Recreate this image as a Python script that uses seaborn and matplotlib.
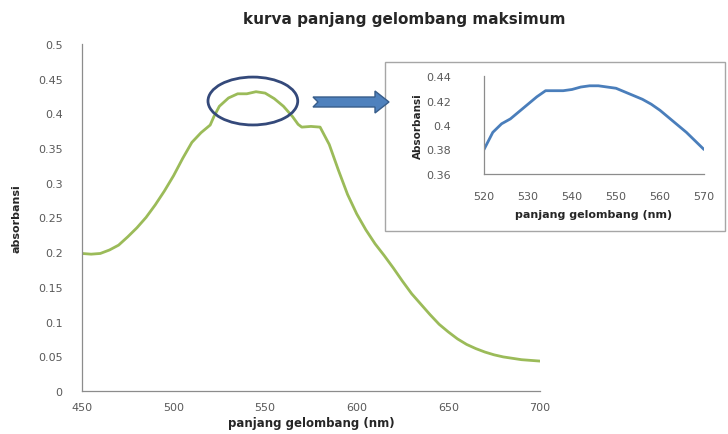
import numpy as np
import pandas as pd
import seaborn as sns
import matplotlib.pyplot as plt
from matplotlib.patches import Ellipse, Rectangle, Polygon

# main spectrum
wavelength = [450, 455, 460, 465, 470, 475, 480, 485, 490, 495, 500, 505, 510, 515,
              520, 522, 525, 530, 535, 540, 545, 550, 555, 560, 565, 568, 570, 575,
              580, 585, 590, 595, 600, 605, 610, 615, 620, 625, 630, 635, 640, 645,
              650, 655, 660, 665, 670, 675, 680, 685, 690, 695, 700]
absorbance = [0.198, 0.197, 0.198, 0.203, 0.210, 0.222, 0.235, 0.250, 0.268, 0.288,
              0.310, 0.335, 0.358, 0.372, 0.383, 0.395, 0.410, 0.422, 0.428, 0.428,
              0.431, 0.429, 0.421, 0.410, 0.395, 0.384, 0.380, 0.381, 0.380, 0.355,
              0.318, 0.283, 0.255, 0.232, 0.212, 0.195, 0.177, 0.158, 0.140, 0.125,
              0.110, 0.096, 0.085, 0.075, 0.067, 0.061, 0.056, 0.052, 0.049, 0.047,
              0.045, 0.044, 0.043]

# zoomed peak region
peak_wavelength = [520, 522, 524, 526, 528, 530, 532, 534, 536, 538, 540, 542, 544,
                   546, 548, 550, 552, 554, 556, 558, 560, 562, 564, 566, 568, 570]
peak_absorbance = [0.380, 0.394, 0.401, 0.405, 0.411, 0.417, 0.423, 0.428, 0.428,
                   0.428, 0.429, 0.431, 0.432, 0.432, 0.431, 0.430, 0.427, 0.424,
                   0.421, 0.417, 0.412, 0.406, 0.400, 0.394, 0.387, 0.380]

main_df = pd.DataFrame({'wl': wavelength, 'abs': absorbance})
peak_df = pd.DataFrame({'wl': peak_wavelength, 'abs': peak_absorbance})

GREEN = '#9bbb59'
BLUE = '#4a7ebb'
GRAY = '#595959'
SPINE = '#8c8c8c'

sns.set_style('white')
plt.rcParams['font.family'] = ['DejaVu Sans']

fig = plt.figure(figsize=(7.28, 4.35), dpi=100)


def style_axes(ax, pad_y=12, pad_x=8):
    for side in ['top', 'right']:
        ax.spines[side].set_visible(False)
    for side in ['left', 'bottom']:
        ax.spines[side].set_color(SPINE)
        ax.spines[side].set_linewidth(0.9)
    ax.tick_params(axis='both', colors=SPINE, labelcolor=GRAY, labelsize=8, length=0)
    ax.tick_params(axis='y', pad=pad_y)
    ax.tick_params(axis='x', pad=pad_x)


# inset frame (behind everything)
fig.patches.append(Rectangle((385 / 728, 1 - 232 / 435), 340 / 728, 169 / 435,
                             transform=fig.transFigure, fill=True, facecolor='white',
                             edgecolor='#a6a6a6', linewidth=1, zorder=-5))

# main chart
ax = fig.add_axes([0.1126, 0.099, 0.629, 0.798])
ax.set_facecolor('none')
sns.lineplot(data=main_df, x='wl', y='abs', ax=ax, color=GREEN, linewidth=2)
ax.set_xlim(450, 700)
ax.set_ylim(0, 0.5)
ax.set_xticks(np.arange(450, 701, 50))
ax.set_yticks(np.arange(0, 0.501, 0.05))
ax.set_yticklabels(['0'] + [f'{v:g}' for v in np.arange(0.05, 0.501, 0.05).round(2)])
style_axes(ax, pad_y=14)
ax.set_xlabel('panjang gelombang (nm)', fontsize=8.5, fontweight='bold', labelpad=3)
ax.set_ylabel('absorbansi', fontsize=8, fontweight='bold', labelpad=12)
fig.text(0.555, 0.955, 'kurva panjang gelombang maksimum', ha='center', va='center',
         fontsize=11, fontweight='bold')

# circle around the peak
ax.add_patch(Ellipse((543.3, 0.4176), 49, 0.069, fill=False, edgecolor='#34497a',
                     linewidth=2, clip_on=False, zorder=5))

# arrow (notched tail)
arrow_px = [(313, 98), (375, 98), (375, 92), (389, 103), (375, 114), (375, 108),
            (313, 108), (318, 103)]
fig.patches.append(Polygon([(x / 728, 1 - y / 435) for x, y in arrow_px], closed=True,
                           transform=fig.transFigure, facecolor='#4f81bd',
                           edgecolor='#385d8a', linewidth=1, zorder=3))

# inset chart
ins = fig.add_axes([484 / 728, 1 - 175 / 435, 220 / 728, 98 / 435])
ins.set_zorder(2)
ins.set_facecolor('none')
sns.lineplot(data=peak_df, x='wl', y='abs', ax=ins, color=BLUE, linewidth=2)
ins.set_xlim(520, 570)
ins.set_ylim(0.36, 0.44)
ins.set_xticks(np.arange(520, 571, 10))
ins.set_yticks([0.36, 0.38, 0.40, 0.42, 0.44])
ins.set_yticklabels(['0.36', '0.38', '0.4', '0.42', '0.44'])
style_axes(ins, pad_y=24, pad_x=12)
ins.set_xlabel('panjang gelombang (nm)', fontsize=8, fontweight='bold', labelpad=6)
ins.set_ylabel('Absorbansi', fontsize=7.5, fontweight='bold', labelpad=2)

fig.savefig('out.png', dpi=100)
